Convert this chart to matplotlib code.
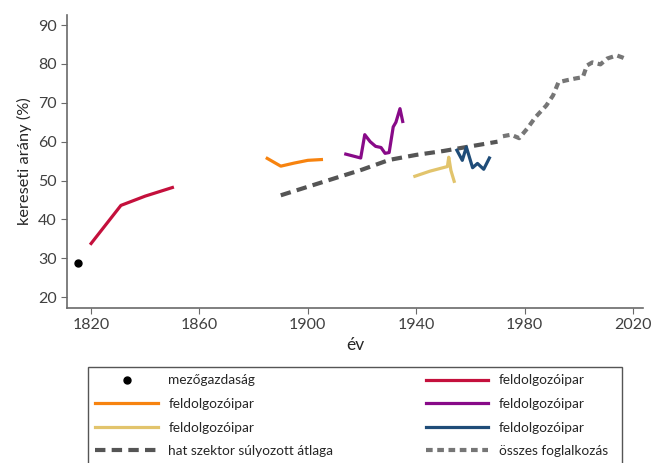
import matplotlib

matplotlib.use("Agg")
import matplotlib.pyplot as plt
from matplotlib.patches import Rectangle

plt.rcParams["font.family"] = ["Lato", "DejaVu Sans"]

# ----------------------------------------------------------------------
# Adatok (az ábráról leolvasva)
# ----------------------------------------------------------------------
mezo_ev = [1815]
mezo_ertek = [28.7]

piros_ev = [1820, 1831, 1840, 1850]
piros_ertek = [33.8, 43.6, 46.0, 48.2]

narancs_ev = [1885, 1890, 1895, 1900, 1905]
narancs_ertek = [55.7, 53.7, 54.5, 55.2, 55.4]

lila_ev = [1914, 1919.5, 1921, 1923, 1925, 1927, 1928.5, 1930, 1931.5, 1932.5, 1934, 1935]
lila_ertek = [56.8, 55.8, 61.8, 60.0, 58.8, 58.5, 57.0, 57.2, 63.8, 65.0, 68.5, 65.2]

sarga_ev = [1939.5, 1945, 1951.5, 1952, 1952.8, 1954]
sarga_ertek = [51.1, 52.4, 53.6, 56.0, 52.6, 49.8]

kek_ev = [1955, 1957, 1958.5, 1960.8, 1962.6, 1964.9, 1967]
kek_ertek = [57.8, 55.2, 58.6, 53.3, 54.4, 52.9, 55.8]

hat_ev = [1890, 1900, 1910, 1920, 1930, 1940, 1950, 1960, 1970]
hat_ertek = [46.2, 48.4, 50.6, 52.8, 55.3, 56.6, 57.6, 58.8, 60.0]

osszes_ev = [1972, 1975, 1978, 1981, 1984, 1988, 1990.5, 1992.5, 1995.5, 1999,
             2001.5, 2003, 2005, 2008, 2010.5, 2014, 2016, 2018]
osszes_ertek = [61.4, 61.8, 60.9, 63.4, 66.3, 69.3, 71.9, 75.3, 75.8, 76.3,
                76.6, 79.6, 80.4, 79.9, 81.4, 82.2, 81.7, 81.1]

felirat = "feldolgozóipar"

# ----------------------------------------------------------------------
# Ábra
# ----------------------------------------------------------------------
fig = plt.figure(figsize=(6.53, 4.63), dpi=100)
ax = fig.add_axes([0.1026, 0.3348, 0.8821, 0.6328])

ax.plot(mezo_ev, mezo_ertek, "o", color="black", ms=5, label="mezőgazdaság")
ax.plot(narancs_ev, narancs_ertek, color="#F7830F", lw=2.3, label=felirat)
ax.plot(sarga_ev, sarga_ertek, color="#E2C46C", lw=2.3, label=felirat)
ax.plot(hat_ev, hat_ertek, color="#555555", lw=3, dashes=(2.5, 1.5),
        label="hat szektor súlyozott átlaga")
ax.plot(piros_ev, piros_ertek, color="#C4103C", lw=2.3, label=felirat)
ax.plot(lila_ev, lila_ertek, color="#880A88", lw=2.3, label=felirat)
ax.plot(kek_ev, kek_ertek, color="#1F4C78", lw=2.3, label=felirat)
ax.plot(osszes_ev, osszes_ertek, color="#767676", lw=3, dashes=(1.6, 1.1),
        label="összes foglalkozás")

ax.set_xlim(1811.1, 2023.7)
ax.set_ylim(17.2, 92.6)
ax.set_xticks([1820, 1860, 1900, 1940, 1980, 2020])
ax.set_yticks([20, 30, 40, 50, 60, 70, 80, 90])

for s in ["top", "right"]:
    ax.spines[s].set_visible(False)
for s in ["left", "bottom"]:
    ax.spines[s].set_color("#6a6a6a")
    ax.spines[s].set_linewidth(1.2)
ax.tick_params(colors="#6a6a6a", labelcolor="#404040", labelsize=11.5, length=4)

ax.set_xlabel("év", fontsize=12.5, color="#262626", labelpad=3)
ax.set_ylabel("kereseti arány (%)", fontsize=11.8, color="#262626", labelpad=4)

# jelmagyarázat: keret külön téglalapként, a legenda keret nélkül
fig.patches.append(Rectangle((88 / 653, -0.05), 534 / 653, 0.05 + 1 - 367 / 463,
                             transform=fig.transFigure, fill=False,
                             edgecolor="#555555", lw=1.0))
leg = fig.legend(loc="upper left", bbox_to_anchor=(88 / 653, 1 - 367 / 463),
                 ncol=2, fontsize=9.8, frameon=False,
                 handlelength=4.6, handletextpad=0.75, labelspacing=0.85,
                 columnspacing=6.8, borderpad=0.55, borderaxespad=0)
for t in leg.get_texts():
    t.set_color("#262626")

fig.savefig("out.png", dpi=100)
